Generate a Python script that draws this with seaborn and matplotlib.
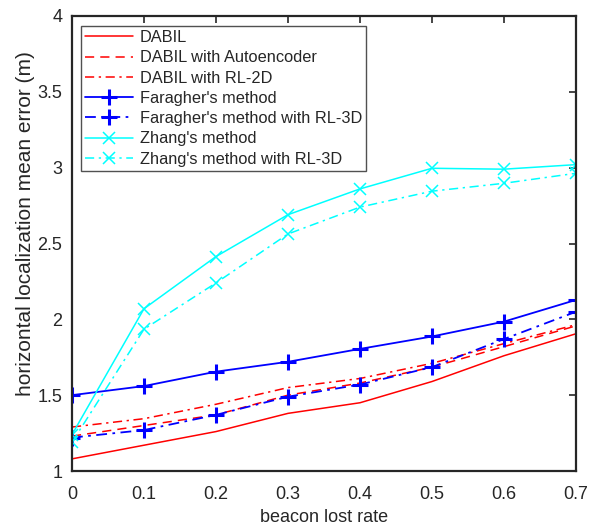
import matplotlib
matplotlib.use("Agg")
import matplotlib.pyplot as plt
import seaborn as sns
import pandas as pd

rate = [0.0, 0.1, 0.2, 0.3, 0.4, 0.5, 0.6, 0.7]
dabil = [1.08, 1.17, 1.26, 1.38, 1.45, 1.59, 1.76, 1.905]
dabil_ae = [1.23, 1.30, 1.37, 1.50, 1.58, 1.685, 1.82, 1.957]
dabil_rl2d = [1.29, 1.345, 1.44, 1.55, 1.61, 1.71, 1.84, 1.965]
faragher = [1.50, 1.56, 1.655, 1.72, 1.805, 1.887, 1.985, 2.128]
faragher_rl3d = [1.22, 1.27, 1.37, 1.49, 1.57, 1.685, 1.87, 2.05]
zhang = [1.24, 2.07, 2.414, 2.69, 2.86, 2.996, 2.99, 3.02]
zhang_rl3d = [1.19, 1.935, 2.24, 2.563, 2.74, 2.845, 2.897, 2.963]

labels = ["DABIL", "DABIL with Autoencoder", "DABIL with RL-2D",
          "Faragher's method", "Faragher's method with RL-3D",
          "Zhang's method", "Zhang's method with RL-3D"]
series = [dabil, dabil_ae, dabil_rl2d, faragher, faragher_rl3d, zhang, zhang_rl3d]
colors = ["#ff0000", "#ff0000", "#ff0000", "#0000ff", "#0000ff", "#00ffff", "#00ffff"]
styles = ["-", (0, (6, 4)), (0, (6, 3, 1.5, 3)), "-", (0, (6, 3, 1.5, 3)), "-", (0, (6, 3, 1.5, 3))]
markers = [None, None, None, "+", "+", "x", "x"]

sns.set_style("white")
plt.rcParams["font.family"] = ["Liberation Sans", "DejaVu Sans"]

fig = plt.figure(figsize=(6.01, 5.25), dpi=100)
ax = fig.add_axes([72 / 601, 1 - 471 / 525, (576 - 72) / 601, (471 - 16) / 525])

for lab, vals, c, ls, m in zip(labels, series, colors, styles, markers):
    df = pd.DataFrame({"rate": rate, "err": vals})
    kw = {}
    if m == "+":
        kw = dict(marker=m, markersize=11, markeredgewidth=2.2, markeredgecolor=c)
    elif m == "x":
        kw = dict(marker=m, markersize=8, markeredgewidth=1.1, markeredgecolor=c)
    sns.lineplot(data=df, x="rate", y="err", ax=ax, color=c, linestyle=ls,
                 linewidth=1.1 if c != "#0000ff" else 1.3, label=lab, **kw)

ax.set_xlim(0, 0.7)
ax.set_ylim(1, 4)
ax.set_xticks(rate)
ax.set_xticklabels(["0", "0.1", "0.2", "0.3", "0.4", "0.5", "0.6", "0.7"])
ax.set_yticks([1, 1.5, 2, 2.5, 3, 3.5, 4])
ax.set_yticklabels(["1", "1.5", "2", "2.5", "3", "3.5", "4"])
ax.tick_params(direction="in", length=5, width=1.2, colors="#262626",
               labelsize=13, top=True, right=True)
ax.tick_params(axis="x", pad=11)
ax.tick_params(axis="y", pad=7)
for sp in ax.spines.values():
    sp.set_visible(True)
    sp.set_color("#262626")
    sp.set_linewidth(1.6)
ax.set_xlabel("beacon lost rate", fontsize=13, color="#262626", labelpad=4)
ax.set_ylabel("horizontal localization mean error (m)", fontsize=15, color="#262626")
ax.yaxis.set_label_coords(-0.073, 0.543)

leg = ax.legend(loc="upper left", bbox_to_anchor=(0.012, 0.985), fontsize=11.8,
                frameon=True, fancybox=False, handlelength=2.9, handletextpad=0.4,
                borderpad=0.25, labelspacing=0.32, borderaxespad=0.2, numpoints=1)
leg.get_frame().set_edgecolor("#262626")
leg.get_frame().set_linewidth(1.0)

fig.savefig("out.png", dpi=100)
